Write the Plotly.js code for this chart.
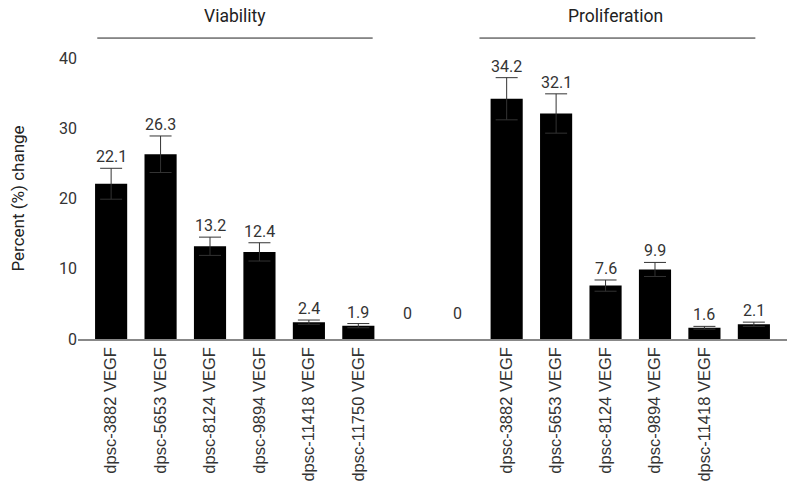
<!DOCTYPE html>
<html>
<head>
<meta charset="utf-8">
<script src="https://cdn.plot.ly/plotly-3.0.1.min.js"></script>
<style>html,body{margin:0;padding:0;background:#fff;}#chart{width:796px;height:491px;}</style>
</head>
<body>
<div id="chart"></div>
<script>
// Categories (slot labels; blanks are the empty gap slots)
var categories = ["dpsc-3882 VEGF","dpsc-5653 VEGF","dpsc-8124 VEGF","dpsc-9894 VEGF","dpsc-11418 VEGF","dpsc-11750 VEGF","","","dpsc-3882 VEGF","dpsc-5653 VEGF","dpsc-8124 VEGF","dpsc-9894 VEGF","dpsc-11418 VEGF",""];
var values = [22.1, 26.3, 13.2, 12.4, 2.4, 1.9, 0, 0, 34.2, 32.1, 7.6, 9.9, 1.6, 2.1];
var errors = [2.2, 2.6, 1.3, 1.3, 0.3, 0.3, 0, 0, 3.0, 2.8, 0.8, 1.0, 0.2, 0.3];
var valueLabels = ["22.1","26.3","13.2","12.4","2.4","1.9","0","0","34.2","32.1","7.6","9.9","1.6","2.1"];
var groupTitles = ["Viability", "Proliferation"];
var yTicks = [0, 10, 20, 30, 40];

var xs = categories.map(function(_, i){ return i; });

var bars = {
  type: "bar",
  x: xs,
  y: values.map(function(v){ return v === 0 ? null : v; }),
  marker: {color: "#000000"},
  error_y: {type: "data", array: errors.map(function(e){ return e === 0 ? NaN : e; }), visible: true, color: "#333333", thickness: 1, width: 11},
  hoverinfo: "none"
};

var annotations = xs.map(function(i){
  return {
    x: i, y: values[i] + errors[i], xref: "x", yref: "y",
    text: valueLabels[i], showarrow: false, yanchor: "bottom", yshift: values[i] === 0 ? 14 : 0,
    font: {family: "Roboto, sans-serif", size: 16, color: "#333333"}
  };
});
annotations.push({x: 2.5, y: 1.149, xref: "x", yref: "paper", yanchor: "middle", text: groupTitles[0], showarrow: false,
  font: {family: "Roboto, sans-serif", size: 17.5, color: "#222222"}});
annotations.push({x: 10.2, y: 1.149, xref: "x", yref: "paper", yanchor: "middle", text: groupTitles[1], showarrow: false,
  font: {family: "Roboto, sans-serif", size: 17.5, color: "#222222"}});

var layout = {
  width: 796, height: 491,
  margin: {l: 78, r: 9, t: 58, b: 152},
  paper_bgcolor: "#ffffff", plot_bgcolor: "#ffffff",
  showlegend: false,
  bargap: 0.35,
  xaxis: {
    range: [-0.67, 13.67],
    tickmode: "array", tickvals: xs, ticktext: categories,
    tickangle: -90, showgrid: false, zeroline: false,
    showline: true, linecolor: "#888888", linewidth: 1.5,
    ticks: "", ticklen: 0,
    tickfont: {family: "Liberation Sans, Arial, sans-serif", size: 16.5, color: "#333333"}
  },
  yaxis: {
    range: [0, 40],
    tickmode: "array", tickvals: yTicks,
    showgrid: false, zeroline: false, showline: false, ticks: "",
    tickfont: {family: "Roboto, sans-serif", size: 16, color: "#333333"},
    title: {text: "Percent (%) change", font: {family: "Roboto, sans-serif", size: 17, color: "#222222"}, standoff: 30}
  },
  annotations: annotations,
  shapes: [
    {type: "line", xref: "x", yref: "paper", x0: -0.28, x1: 5.29, y0: 1.071, y1: 1.071, line: {color: "#222222", width: 1}},
    {type: "line", xref: "x", yref: "paper", x0: 7.45, x1: 13.03, y0: 1.071, y1: 1.071, line: {color: "#222222", width: 1}}
  ]
};

Plotly.newPlot("chart", [bars], layout, {displayModeBar: false, staticPlot: true});
</script>
</body>
</html>
